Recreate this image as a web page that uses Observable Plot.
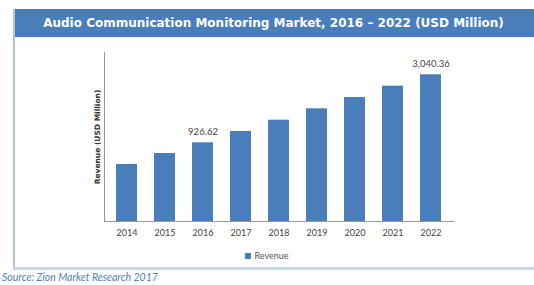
<!DOCTYPE html>
<html>
<head>
<meta charset="utf-8">
<script src="https://cdn.jsdelivr.net/npm/d3@7"></script>
<script src="https://cdn.jsdelivr.net/npm/@observablehq/plot@0.6"></script>
<style>
  html, body { margin: 0; padding: 0; background: #fff; }
  #wrap { position: relative; width: 534px; height: 285px; overflow: hidden; background: #fff; }
  #title { position: absolute; left: 13px; top: 9px; width: 521px; height: 28px; background: #4a7ebb;
    color: #fff; font: bold 12px "DejaVu Sans", Verdana, sans-serif; line-height: 28px; text-align: center; }
  #leftline { position: absolute; left: 13px; top: 9px; width: 2px; height: 260px; background: #b4c6de; }
  #bottomline { position: absolute; left: 13px; top: 267px; width: 521px; height: 3px; background: #c6d6ea; }
  #chart { position: absolute; left: 0; top: 0; }
  #legend { position: absolute; left: 0; width: 534px; top: 250px; text-align: center; font: 9px Lato, sans-serif; color: #555; }
  #legend .sw { display: inline-block; width: 6px; height: 6px; background: #4a7ebb; margin-right: 3px; vertical-align: 0px; }
  #source { position: absolute; left: 2px; top: 271px; font: italic 10.5px Lato, sans-serif; color: #4f7fbf; }
</style>
</head>
<body>
<div id="wrap">
  <div id="title">Audio Communication Monitoring Market, 2016 – 2022 (USD Million)</div>
  <div id="leftline"></div>
  <div id="chart"></div>
  <div id="legend"><span class="sw"></span>Revenue</div>
  <div id="bottomline"></div>
  <div id="source">Source: Zion Market Research 2017</div>
</div>
<script>
const years = ["2014", "2015", "2016", "2017", "2018", "2019", "2020", "2021", "2022"];
const revenue = [252, 594, 926.62, 1278, 1629, 1983, 2334, 2686, 3040.36];
const valueLabels = ["", "", "926.62", "", "", "", "", "", "3,040.36"];
const yDomain = [-1519, 3733];
const yLabel = "Revenue (USD Million)";
const seriesName = "Revenue";

const data = years.map((y, i) => ({year: y, value: revenue[i], label: valueLabels[i], base: yDomain[0]}));

const chart = Plot.plot({
  width: 534,
  height: 245,
  marginTop: 52,
  marginBottom: 24,
  marginLeft: 104,
  marginRight: 81,
  style: {fontFamily: "Lato, sans-serif", fontSize: "9px", color: "#444", background: "transparent"},
  x: {domain: years, paddingInner: 0.435, paddingOuter: 0.197, align: 0.5},
  y: {domain: yDomain, axis: null},
  marks: [
    Plot.barY(data, {x: "year", y1: "base", y2: "value", fill: "#4a7ebb"}),
    Plot.frame({anchor: "left", stroke: "#999"}),
    Plot.frame({anchor: "bottom", stroke: "#999"}),
    Plot.axisX({tickSize: 0, tickPadding: 8, label: null, fontSize: 9}),
    Plot.text(data.filter(d => d.label), {x: "year", y: "value", text: "label", dy: -11, fontSize: 9.5, fill: "#444"}),
    Plot.text([yLabel], {frameAnchor: "left", textAnchor: "middle", rotate: -90, dx: -7, fontSize: 7.5, fontWeight: "bold", fill: "#333", fontFamily: "DejaVu Sans, sans-serif"})
  ]
});
document.getElementById("chart").appendChild(chart);
</script>
</body>
</html>
